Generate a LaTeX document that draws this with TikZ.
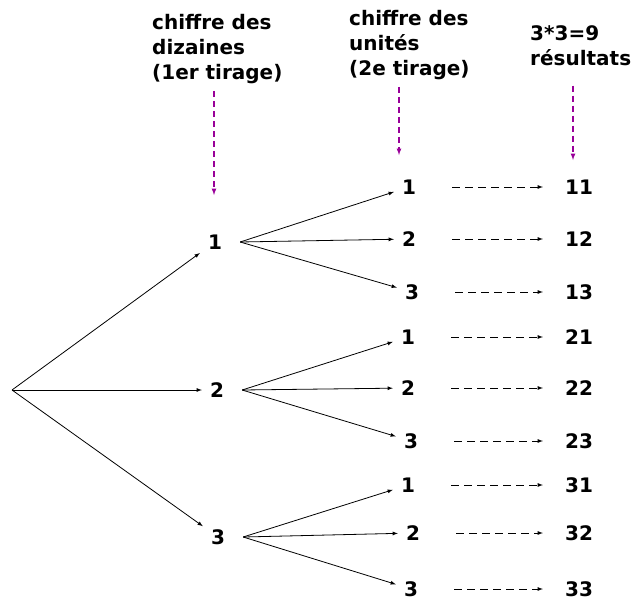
\documentclass[tikz,border=0pt]{standalone}
\usepackage{fontspec}
\setmainfont{DejaVu Sans}
\usetikzlibrary{arrows}
\definecolor{pointcol}{RGB}{153,0,153}

\begin{document}
\begin{tikzpicture}[x=1pt,y=-1pt,font=\fontsize{20}{25}\selectfont\bfseries,
                    every node/.style={inner sep=8pt},
                    tree/.style={-latex,line width=0.8pt},
                    result/.style={-latex,line width=0.8pt,dash pattern=on 8pt off 5pt,shorten <=28pt,shorten >=14pt},
                    pointer/.style={-latex,line width=1.2pt,color=pointcol,dash pattern=on 6pt off 4pt},
                    header/.style={anchor=north west,align=left,inner sep=0pt}]
                      \useasboundingbox (0,0) rectangle (636,602);
                      % column titles
                      \node[header] (h1) at (152,14) {chiffre des\\dizaines\\(1er tirage)};
                      \node[header] (h2) at (349,10) {chiffre des\\unités\\(2e tirage)};
                      \node[header] (h3) at (530,25) {3*3=9\\résultats};
                      \coordinate (p1) at (214,195);
                      \coordinate (p2) at (399,155);
                      \coordinate (p3) at (573,160);
                      \draw[pointer] (h1.south -| p1) ++(0,7) -- (p1);
                      \draw[pointer] (h2.south -| p2) ++(0,7) -- (p2);
                      \draw[pointer] (h3.south -| p3) ++(0,20) -- (p3);
                      % first draw
                      \coordinate (root) at (12,390);
                      \foreach \i/\x/\y in {1/215/242,2/217/390,3/218/537}
                      {
                        \node (n\i) at (\x,\y) {\i};
                        \draw[tree] (root) -- (n\i);
                      }
                      % second draw and results
                      \foreach \i/\j/\x/\y in {1/1/409/187,1/2/409/239,1/3/412/292,
                                               2/1/408/337,2/2/408/388,2/3/411/441,
                                               3/1/408/485,3/2/413/533,3/3/411/589}
                      {
                        \node (m\i\j) at (\x,\y) {\j};
                        \node (r\i\j) at (579,\y) {\i\j};
                        \draw[tree] ([xshift=10pt]n\i.east) -- (m\i\j);
                        \draw[result] (m\i\j) -- (r\i\j);
                      }
                  \end{tikzpicture}
\end{document}
